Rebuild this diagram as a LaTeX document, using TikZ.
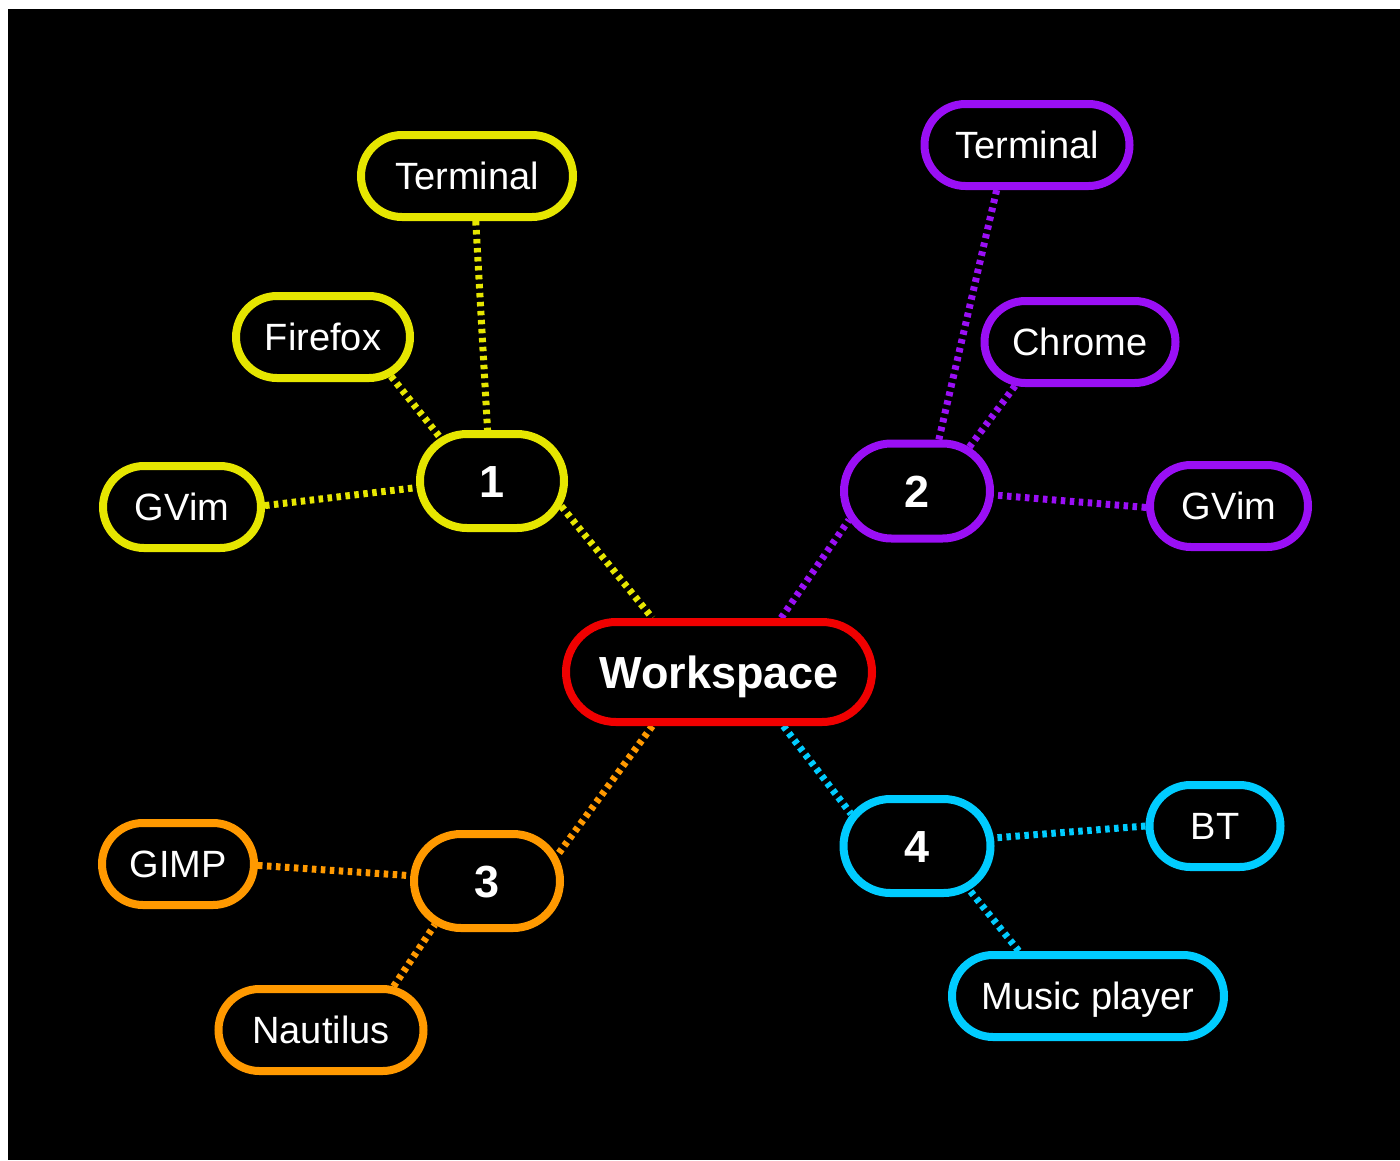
\documentclass[tikz,border=0pt]{standalone}
\usepackage{fontspec}
\setmainfont{Liberation Sans}
\usetikzlibrary{shapes.misc,backgrounds}
\definecolor{cyel}{HTML}{E6E600}
\definecolor{cpur}{HTML}{9A0FF5}
\definecolor{cora}{HTML}{FF9900}
\definecolor{ccya}{HTML}{00CCFF}
\definecolor{cred}{HTML}{F00000}
\tikzset{
  leaf/.style={rounded rectangle, draw, fill=black, line width=8pt, inner sep=0pt, text=white,
    minimum height=82pt, font=\fontsize{38}{40}\selectfont, text height=27pt, text depth=0pt},
  hub/.style={leaf, minimum height=94pt, font=\fontsize{45}{48}\selectfont\bfseries, text height=32pt},
  conn/.style={line width=7pt, dash pattern=on 4.5pt off 4.5pt}
}
\begin{document}
\begin{tikzpicture}[x=1pt,y=-1pt]
\useasboundingbox (0,0) rectangle (1400,1160);
\begin{scope}[on background layer]
\fill[white] (0,0) rectangle (1400,1160);
\fill[black] (8,9) rectangle (1400,1160);
\end{scope}
% hubs
\node[hub, draw=cred, minimum width=306pt, minimum height=100pt] (ws) at (719,672) {Workspace};
\node[hub, draw=cyel, minimum width=144pt] (h1) at (492,481) {1};
\node[hub, draw=cpur, minimum width=146pt, minimum height=95pt] (h2) at (917,491) {2};
\node[hub, draw=cora, minimum width=146pt] (h3) at (487,881) {3};
\node[hub, draw=ccya, minimum width=147pt] (h4) at (917,846) {4};
% leaves
\node[leaf, draw=cyel, minimum width=212pt] (t1) at (467,176) {Terminal};
\node[leaf, draw=cyel, minimum width=174pt] (ff) at (323,337) {Firefox};
\node[leaf, draw=cyel, minimum width=158pt] (g1) at (182,507) {GVim};
\node[leaf, draw=cpur, minimum width=205pt] (t2) at (1027,145) {Terminal};
\node[leaf, draw=cpur, minimum width=191pt] (ch) at (1080,342) {Chrome};
\node[leaf, draw=cpur, minimum width=158pt] (g2) at (1229,506) {GVim};
\node[leaf, draw=cora, minimum width=152pt] (gi) at (178,864) {GIMP};
\node[leaf, draw=cora, minimum width=205pt] (na) at (321,1030) {Nautilus};
\node[leaf, draw=ccya, minimum width=131pt] (bt) at (1215,826) {BT};
\node[leaf, draw=ccya, minimum width=272pt] (mu) at (1088,996) {Music player};
% connectors
\begin{scope}[on background layer]
\draw[conn, cyel] (t1.281) -- (h1.95);
\draw[conn, cyel] (ff.-30) -- (h1.140);
\draw[conn, cyel] (g1.1) -- (h1.185);
\draw[conn, cyel] (h1.-20) -- (ws.141);
\draw[conn, cpur] (ws.41) -- (h2.203);
\draw[conn, cpur] (t2.236) -- (h2.67);
\draw[conn, cpur] (ch.214) -- (h2.40);
\draw[conn, cpur] (g2.181) -- (h2.-3);
\draw[conn, cora] (ws.219) -- (h3.20);
\draw[conn, cora] (gi.-1) -- (h3.176);
\draw[conn, cora] (na.31) -- (h3.220);
\draw[conn, ccya] (ws.-40) -- (h4.154);
\draw[conn, ccya] (bt.180) -- (h4.6);
\draw[conn, ccya] (mu.147) -- (h4.-40);
\end{scope}
\end{tikzpicture}
\end{document}
